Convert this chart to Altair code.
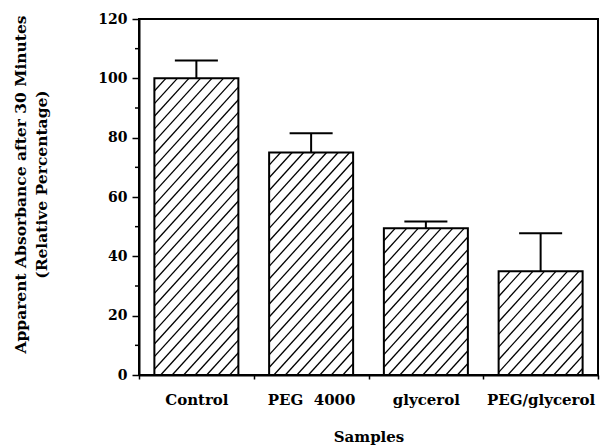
import altair as alt
import pandas as pd
import numpy as np

# ---- data ----
samples = ["Control", "PEG\u00a0\u00a04000", "glycerol", "PEG/glycerol"]
means = [100, 75, 49.5, 35]
errors = [6, 6.5, 2.2, 12.8]
major_ticks = [0, 20, 40, 60, 80, 100, 120]
minor_ticks = [10, 30, 50, 70, 90, 110]

# ---- layout constants ----
W, H = 459, 356
YMAX = 120
BAR_FRAC = 0.732      # bar width as fraction of category step
CAP_FRAC = 0.375      # error-cap width as fraction of category step
FONT = "DejaVu Serif"

px_x = W / len(samples)
px_y = H / YMAX

bars = pd.DataFrame({"sample": samples, "mean": means, "err": errors, "idx": range(len(samples))})
bars["x0"] = bars["idx"] + (1 - BAR_FRAC) / 2
bars["x1"] = bars["idx"] + 1 - (1 - BAR_FRAC) / 2
bars["xc"] = bars["idx"] + 0.5
bars["upper"] = bars["mean"] + bars["err"]
bars["c0"] = bars["xc"] - CAP_FRAC / 2
bars["c1"] = bars["xc"] + CAP_FRAC / 2

# ---- hatch segments derived from each bar (in data units) ----
period = 11.5   # horizontal hatch period, px
slope = 1.1     # dy/dx in px
rows = []
for _, b in bars.iterrows():
    w = (b.x1 - b.x0) * px_x
    h = b["mean"] * px_y
    c = h
    while c > -slope * w:
        if c >= 0:
            sx, sy = 0.0, c
        else:
            sx, sy = -c / slope, 0.0
        ey_at_right = slope * w + c
        if ey_at_right <= h:
            ex, ey = w, ey_at_right
        else:
            ex, ey = (h - c) / slope, h
        if ex - sx > 0.5:
            rows.append({
                "hx0": b.x0 + sx / px_x, "hx1": b.x0 + ex / px_x,
                "hy0": sy / px_y, "hy1": ey / px_y,
            })
        c -= slope * period
hatch = pd.DataFrame(rows)

xscale = alt.Scale(domain=[0, len(samples)], nice=False, zero=False)
yscale = alt.Scale(domain=[0, YMAX], nice=False)

names_js = "[" + ",".join("'" + s + "'" for s in samples) + "]"
x_axis = alt.Axis(
    values=[i / 2 for i in range(2 * len(samples) + 1)],
    labelExpr=f"(datum.value % 1) == 0.5 ? {names_js}[floor(datum.value)] : ''",
    tickOpacity={"condition": {"test": "(datum.value % 1) == 0", "value": 1}, "value": 0},
    tickSize=4, tickWidth=1.5, tickColor="black",
    labelOverlap=False, labelFlush=False, labelBound=False,
    labelFont=FONT, labelFontWeight="bold", labelFontSize=15, labelColor="black",
    labelPadding=13,
    domainColor="black", domainWidth=2,
    grid=False,
    title="Samples", titleFont=FONT, titleFontWeight="bold", titleFontSize=15,
    titleColor="black", titleBaseline="alphabetic", titleY=66,
)
y_axis = alt.Axis(
    values=major_ticks,
    tickSize=7, tickWidth=1.5, tickColor="black",
    labelOverlap=False, labelFlush=False,
    labelFont=FONT, labelFontWeight="bold", labelFontSize=14, labelColor="black",
    labelPadding=5,
    domainColor="black", domainWidth=2,
    grid=False,
    title=["Apparent Absorbance after 30 Minutes", "(Relative Percentage)"],
    titleFont=FONT, titleFontWeight="bold", titleFontSize=15.5, titleColor="black",
    titleLineHeight=21, titleBaseline="middle", titleAlign="center",
    titleX=-119, titleY=165, titleAngle=-90,
)

base = alt.Chart(bars)

fill = base.mark_rect(fill="white", stroke=None).encode(
    x=alt.X("x0:Q", scale=xscale, axis=x_axis),
    x2="x1:Q",
    y=alt.Y("mean:Q", scale=yscale, axis=y_axis),
    y2=alt.datum(0),
)

hatch_layer = alt.Chart(hatch).mark_rule(color="black", strokeWidth=1.3).encode(
    x=alt.X("hx0:Q", scale=xscale), x2="hx1:Q",
    y=alt.Y("hy0:Q", scale=yscale), y2="hy1:Q",
)

outline = base.mark_rect(fill=None, fillOpacity=0, stroke="black", strokeWidth=2).encode(
    x=alt.X("x0:Q", scale=xscale), x2="x1:Q",
    y=alt.Y("mean:Q", scale=yscale), y2=alt.datum(0),
)

err_stem = base.mark_rule(color="black", strokeWidth=2).encode(
    x=alt.X("xc:Q", scale=xscale),
    y=alt.Y("mean:Q", scale=yscale), y2="upper:Q",
)
err_cap = base.mark_rule(color="black", strokeWidth=2).encode(
    x=alt.X("c0:Q", scale=xscale), x2="c1:Q",
    y=alt.Y("upper:Q", scale=yscale),
)

# minor y-axis ticks (pointing outward, shorter than the major ticks)
minor = alt.Chart(pd.DataFrame({"t": minor_ticks})).mark_rule(
    color="black", strokeWidth=1.5
).encode(
    x=alt.value(-4), x2=alt.value(0),
    y=alt.Y("t:Q", scale=yscale),
)

chart = alt.layer(fill, hatch_layer, outline, err_stem, err_cap, minor).properties(
    width=W, height=H,
    autosize=alt.AutoSizeParams(type="none"),
    padding={"left": 139, "top": 19, "right": 5, "bottom": 72},
    background="white",
).configure_view(stroke="black", strokeWidth=2)

chart.save("out.html", embed_options={"renderer": "svg", "actions": False})
